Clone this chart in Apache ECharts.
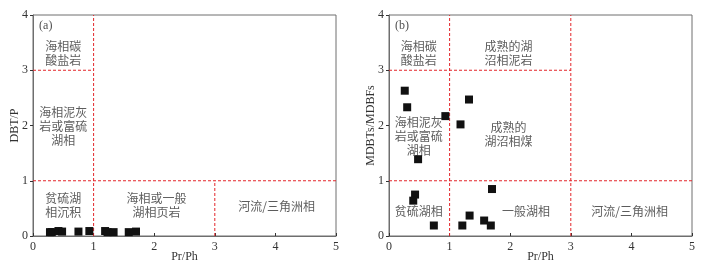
<!DOCTYPE html>
<html><head><meta charset="utf-8">
<script src="https://cdn.jsdelivr.net/npm/echarts@6/dist/echarts.min.js"></script>
<style>html,body{margin:0;padding:0;background:#fff}#c{width:706px;height:268px}</style>
</head><body><div id="c"></div>
<script>
// Panel (a): Pr/Ph vs DBT/P
const prphA = [0.28, 0.31, 0.42, 0.48, 0.75, 0.93, 1.19, 1.23, 1.33, 1.58, 1.70];
const dbtpA = [0.07, 0.07, 0.09, 0.08, 0.08, 0.09, 0.09, 0.07, 0.07, 0.07, 0.08];
// Panel (b): Pr/Ph vs MDBTs/MDBFs
const prphB = [0.26, 0.30, 0.93, 1.32, 1.18, 0.48, 0.43, 0.40, 0.74, 1.21, 1.33, 1.57, 1.68, 1.70];
const mdbtB = [2.63, 2.33, 2.17, 2.47, 2.02, 1.39, 0.75, 0.64, 0.19, 0.19, 0.37, 0.28, 0.19, 0.85];
// axis ticks
const xTicks = [0, 1, 2, 3, 4, 5];
const yTicks = [0, 1, 2, 3, 4];
// boundary segments [x1,y1,x2,y2]
const boundsA = [[1,0,1,4],[0,3,1,3],[0,1,5,1],[3,0,3,1]];
const boundsB = [[1,0,1,4],[3,0,3,4],[0,3,3,3],[0,1,5,1]];
// region labels
const regionTextA = ['海相碳\n酸盐岩', '海相泥灰\n岩或富硫\n湖相', '贫硫湖\n相沉积', '海相或一般\n湖相页岩', '河流/三角洲相'];
const regionXA = [0.5, 0.5, 0.5, 2.04, 4.02];
const regionYA = [3.31, 1.98, 0.56, 0.56, 0.53];
const regionTextB = ['海相碳\n酸盐岩', '成熟的湖\n沼相泥岩', '海相泥灰\n岩或富硫\n湖相', '成熟的\n湖沼相煤', '贫硫湖相', '一般湖相', '河流/三角洲相'];
const regionXB = [0.49, 1.97, 0.49, 1.97, 0.49, 2.26, 3.97];
const regionYB = [3.31, 3.31, 1.80, 1.83, 0.44, 0.44, 0.44];
const panelTags = ['(a)', '(b)'];
const yNames = ['DBT/P', 'MDBTs/MDBFs'];
const xName = 'Pr/Ph';

const serif = '"Liberation Serif","Times New Roman",serif';
const cjk = '"Noto Sans CJK SC",sans-serif';
const red = '#e3262b';
const axisCol = '#6e6e6e';

function xAxis(i){
  return {gridIndex:i, type:'value', min:0, max:5, interval:1, name:xName,
    nameLocation:'middle', nameGap:15, nameMoveOverlap:false,
    nameTextStyle:{fontFamily:serif, fontSize:12, color:'#333'},
    axisLine:{lineStyle:{color:axisCol, width:1}},
    axisTick:{inside:true, length:3, lineStyle:{color:'#333'}},
    axisLabel:{fontFamily:serif, fontSize:12, color:'#333', margin:5, formatter:v=>xTicks.includes(v)?String(v):''},
    splitLine:{show:false}};
}
function yAxis(i){
  return {gridIndex:i, type:'value', min:0, max:4, interval:1, name:yNames[i],
    nameLocation:'middle', nameGap:12, nameMoveOverlap:false,
    nameTextStyle:{fontFamily:serif, fontSize:12, color:'#333'},
    axisLine:{lineStyle:{color:axisCol, width:1}},
    axisTick:{inside:false, length:3, lineStyle:{color:'#333'}},
    axisLabel:{fontFamily:serif, fontSize:12, color:'#333', margin:5, formatter:v=>yTicks.includes(v)?String(v):''},
    splitLine:{show:false}};
}
function boundSeries(i, segs){
  return segs.map(s=>({type:'line', xAxisIndex:i, yAxisIndex:i, silent:true, symbol:'none',
    data:[[s[0],s[1]],[s[2],s[3]]], z:1,
    lineStyle:{color:red, type:[3,2], width:1}, itemStyle:{color:red}}));
}
function labelSeries(i, txt, xs, ys){
  return {type:'scatter', xAxisIndex:i, yAxisIndex:i, symbolSize:0, silent:true,
    data: txt.map((t,k)=>({value:[xs[k],ys[k]], name:t})),
    label:{show:true, position:'inside', formatter:p=>p.name, fontFamily:cjk, fontSize:12,
      lineHeight:14, color:'#333', align:'center', verticalAlign:'middle'}};
}
function pointSeries(i, xs, ys){
  return {type:'scatter', xAxisIndex:i, yAxisIndex:i, symbol:'rect', symbolSize:8,
    itemStyle:{color:'#111', opacity:1}, data: xs.map((x,k)=>[x,ys[k]]), z:5};
}
function tagSeries(i){
  return {type:'scatter', xAxisIndex:i, yAxisIndex:i, symbolSize:0, silent:true,
    data:[{value:[0.1,3.8], name:panelTags[i]}],
    label:{show:true, position:'right', distance:0, formatter:p=>p.name, fontFamily:serif, fontSize:12, color:'#222'}};
}
const chart = echarts.init(document.getElementById('c'), null, {renderer:'canvas'});
chart.setOption({
  animation:false,
  grid:[
    {left:33, top:15, width:303, height:221, show:true, borderColor:axisCol, borderWidth:1, backgroundColor:'transparent'},
    {left:389, top:15, width:303, height:221, show:true, borderColor:axisCol, borderWidth:1, backgroundColor:'transparent'}
  ],
  xAxis:[xAxis(0), xAxis(1)],
  yAxis:[yAxis(0), yAxis(1)],
  series:[].concat(
    boundSeries(0, boundsA), boundSeries(1, boundsB),
    [labelSeries(0, regionTextA, regionXA, regionYA), labelSeries(1, regionTextB, regionXB, regionYB),
    pointSeries(0, prphA, dbtpA), pointSeries(1, prphB, mdbtB),
    tagSeries(0), tagSeries(1)]
  )
});
</script></body></html>
